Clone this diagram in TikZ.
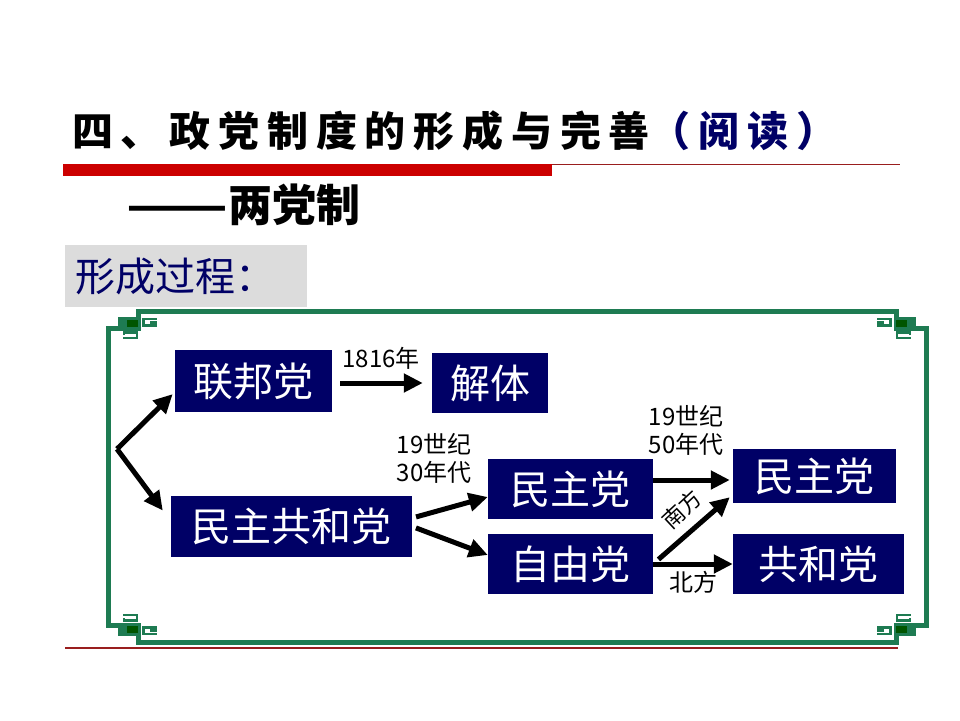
\documentclass[tikz,border=0pt]{standalone}
\usepackage{fontspec}
\newfontfamily\cjk{Noto Sans CJK SC}
\usetikzlibrary{arrows.meta}
\definecolor{navy}{RGB}{0,0,102}
\definecolor{framegreen}{RGB}{30,123,82}
\definecolor{darkgreen}{RGB}{0,85,0}
\definecolor{barred}{RGB}{204,0,0}
\definecolor{linered}{RGB}{153,30,30}
\definecolor{boxgray}{RGB}{220,220,220}
\tikzset{
  framecorner/.pic={
    \fill[framegreen] (10,6) rectangle (32.5,19.5);
    \fill[framegreen] (27.5,-2.5) rectangle (32.5,7);
    \fill[framegreen] (-2.5,14.5) rectangle (12,19.5);
    \fill[darkgreen] (19,9) rectangle (30,16);
    \draw[framegreen, line width=2.5pt] (42,11.5) -- (48,11.5) -- (48,14.5) -- (35.5,14.5) -- (35.5,8) -- (49,8);
    \draw[framegreen, line width=2.5pt] (16,24) -- (16,21.5) -- (29,21.5) -- (29,27) -- (15,27);
  }
}
\begin{document}
\begin{tikzpicture}[x=1pt,y=-1pt,
  party/.style={fill=navy, text=white, font=\cjk\fontsize{40}{40}\selectfont, inner sep=0pt, minimum height=60pt},
  lbl/.style={font=\cjk\fontsize{24}{28}\selectfont, align=center, inner sep=0pt},
  arr/.style={line width=5pt, -{Triangle[length=19pt,width=18pt]}},
  frameline/.style={draw=framegreen, line width=5pt},
]
\useasboundingbox (0,0) rectangle (960,720);
\fill[white] (0,0) rectangle (960,720);

% title
\node[anchor=west, inner sep=0pt, font={\cjk\bfseries\fontsize{41}{41}\selectfont\addfontfeature{LetterSpace=19}}] (title) at (72,131) {四、政党制度的形成与完善\textcolor{navy}{（阅读）}};
\fill[barred] (63,164) rectangle (552,176);
\draw[linered, line width=1.5pt] (552,164.5) -- (900,164.5);
\node[anchor=west, inner sep=0pt, font={\cjk\bfseries\fontsize{44}{44}\selectfont}] (sub) at (126,205) {\scalebox{1.35}[1]{——}两党制};

% gray heading
\node[fill=boxgray, anchor=north west, text=navy, minimum height=62pt, text width=222pt, inner xsep=10pt, inner ysep=0pt, align=left, font=\cjk\fontsize{40}{40}\selectfont] (gb) at (65,245) {形成过程：};

% frame
\draw[frameline] (136,311) -- (898,311);
\draw[frameline] (136,642) -- (898,642);
\draw[frameline] (108,326) -- (108,627);
\draw[frameline] (926,326) -- (926,627);
\pic at (108,311) {framecorner};
\pic[xscale=-1] at (926,311) {framecorner};
\pic[yscale=-1] at (108,642) {framecorner};
\pic[xscale=-1,yscale=-1] at (926,642) {framecorner};
\draw[linered, line width=1.5pt] (65,648) -- (898,648);

% parties
\node[party, minimum width=157pt, minimum height=62pt] (lb) at (253.5,381) {联邦党};
\node[party, minimum width=116pt] (jt) at (490,383) {解体};
\node[party, minimum width=241pt, minimum height=61pt] (mg) at (291.5,526.5) {民主共和党};
\node[party, minimum width=165pt] (dm) at (570.5,489) {民主党};
\node[party, minimum width=165pt] (zy) at (570.5,564) {自由党};
\node[party, minimum width=163pt, minimum height=54pt] (dr) at (814.5,476) {民主党};
\node[party, minimum width=171pt] (gh) at (818.5,564) {共和党};

% labels
\node[lbl] (l1816) at (381,358) {1816年};
\node[lbl] (l30) at (434,458.5) {19世纪\\30年代};
\node[lbl] (l50) at (686,430) {19世纪\\50年代};
\node[lbl, font=\cjk\fontsize{22}{26}\selectfont, rotate=43] (lnf) at (682,509) {南方};
\node[lbl] (lbf) at (693,582) {北方};

% arrows
\coordinate (fork) at (117,449);
\draw[arr, line join=miter, shorten >=3pt] (fork) -- ([yshift=-11pt]lb.west);
\draw[arr] (fork) -- ([shift={(-8pt,16pt)}]mg.west);
\draw[arr, shorten <=8pt, shorten >=9pt] (lb.east |- jt.west) -- (jt.west);
\draw[arr, shorten <=4pt] ([yshift=8.5pt]mg.east) -- ([yshift=-8pt]dm.west);
\draw[arr, shorten <=4pt] (mg.east) -- ([yshift=9pt]zy.west);
\coordinate (t1) at ([yshift=-4pt]dr.west);
\draw[arr, shorten >=3pt] (dm.east |- t1) -- (t1);
\draw[arr] (zy.east) -- (gh.west);
\draw[arr, shorten <=7pt] (zy.east) -- ([shift={(-3pt,6pt)}]dr.south west);
\end{tikzpicture}
\end{document}
